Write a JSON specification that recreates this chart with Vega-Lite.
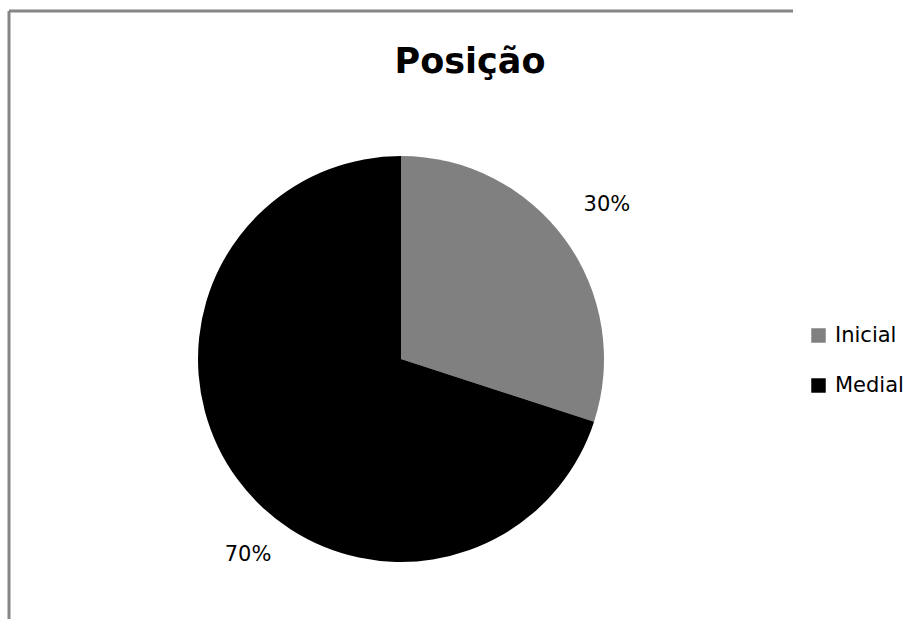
{
  "$schema": "https://vega.github.io/schema/vega-lite/v6.json",
  "autosize": {"type": "none"},
  "padding": {"left": 9, "top": 11, "right": 123, "bottom": 0},
  "width": 784,
  "height": 696,
  "background": "white",
  "config": {
    "view": {"stroke": "#868686", "strokeWidth": 3, "strokeDash": [784, 1480, 696, 0]},
    "font": "DejaVu Sans"
  },
  "view": {"stroke": "#868686", "strokeWidth": 3, "strokeDash": [784, 1480, 696, 0]},
  "title": {
    "text": "Posição",
    "font": "DejaVu Sans",
    "fontSize": 35,
    "fontWeight": "bold",
    "color": "#000000",
    "anchor": "middle",
    "baseline": "alphabetic",
    "offset": 0,
    "dx": 69,
    "dy": 97
  },
  "data": {
    "values": [
      {"posicao": "Inicial", "valor": 30, "rotulo": "30%"},
      {"posicao": "Medial", "valor": 70, "rotulo": "70%"}
    ]
  },
  "encoding": {
    "theta": {"field": "valor", "type": "quantitative", "stack": true},
    "order": {"field": "posicao", "type": "nominal"}
  },
  "layer": [
    {
      "mark": {"type": "arc", "outerRadius": 203, "stroke": null},
      "encoding": {
        "color": {
          "field": "posicao",
          "type": "nominal",
          "scale": {"domain": ["Inicial", "Medial"], "range": ["#808080", "#000000"]},
          "legend": {
            "title": null,
            "orient": "none",
            "legendX": 799,
            "legendY": 314,
            "padding": 0,
            "symbolType": "square",
            "symbolSize": 210,
            "symbolStrokeWidth": 0,
            "labelFont": "DejaVu Sans",
            "labelFontSize": 21,
            "labelColor": "#000000",
            "labelOffset": 6,
            "rowPadding": 28
          }
        }
      }
    },
    {
      "mark": {"type": "text", "radius": 257, "fontSize": 21, "font": "DejaVu Sans", "color": "#000000", "align": "center", "baseline": "middle", "dx": -2, "dy": -3},
      "encoding": {
        "text": {"condition": {"test": "datum.posicao === 'Inicial'", "field": "rotulo"}, "value": ""}
      }
    },
    {
      "mark": {"type": "text", "radius": 257, "fontSize": 21, "font": "DejaVu Sans", "color": "#000000", "align": "center", "baseline": "middle", "dx": 55, "dy": 45},
      "encoding": {
        "text": {"condition": {"test": "datum.posicao === 'Medial'", "field": "rotulo"}, "value": ""}
      }
    }
  ]
}
